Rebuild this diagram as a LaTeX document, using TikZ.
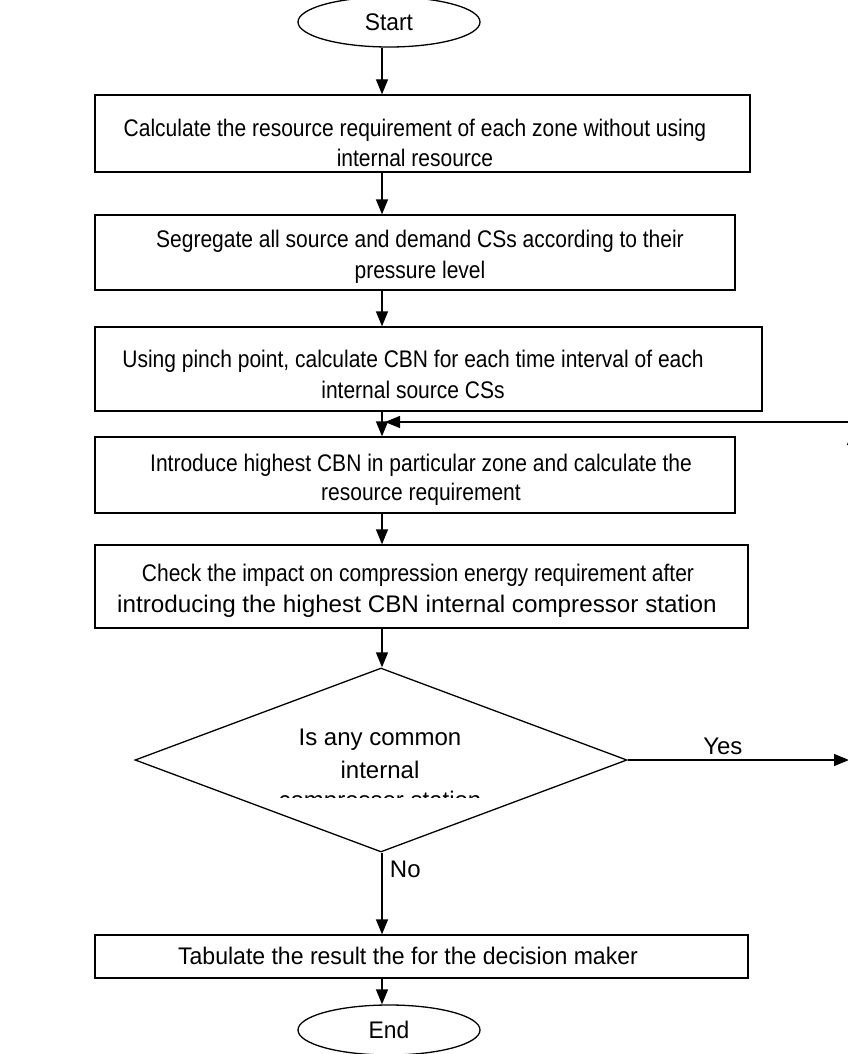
\documentclass[tikz,border=0pt]{standalone}
\usepackage{fontspec}
\setmainfont{Liberation Sans}
\usetikzlibrary{arrows.meta,shapes.geometric}
\newcommand{\nx}[2][0.875]{\scalebox{#1}[1]{#2}}
\begin{document}
\begin{tikzpicture}[x=1pt,y=-1pt,
  font=\fontsize{24}{28}\selectfont,
  box/.style={draw, line width=1.3pt, inner sep=0pt},
  term/.style={draw, ellipse, line width=1.3pt, inner sep=0pt, minimum width=182pt, minimum height=50pt},
  dec/.style={draw, diamond, line width=1.3pt, inner sep=0pt, minimum width=492pt, minimum height=184pt},
  txt/.style={inner sep=0pt},
  arr/.style={-{Triangle[length=15pt,width=12pt]}, line width=1.3pt},
  ln/.style={line width=1.3pt}]
\useasboundingbox (0,0) rectangle (848,1054);
\coordinate (ax) at (382,0);

\node[term] (start) at (389,22) {\nx[0.95]{Start}};

\node[box, minimum width=655pt, minimum height=77pt] (b1) at (422.5,133.5) {};
\node[txt] (b1a) at (415,130) {\nx{Calculate the resource requirement of each zone without using}};
\node[txt] (b1b) at (415,158) {\nx{internal resource}};

\node[box, minimum width=640pt, minimum height=75pt] (b2) at (415,252.5) {};
\node[txt] (b2a) at (420,241) {\nx{Segregate all source and demand CSs according to their}};
\node[txt] (b2b) at (420,272) {\nx{pressure level}};

\node[box, minimum width=667pt, minimum height=84pt] (b3) at (428.5,369) {};
\node[txt] (b3a) at (413,361) {\nx{Using pinch point, calculate CBN for each time interval of each}};
\node[txt] (b3b) at (413,390) {\nx{internal source CSs}};

\node[box, minimum width=640pt, minimum height=76pt] (b4) at (415,475) {};
\node[txt] (b4a) at (421,465) {\nx{Introduce highest CBN in particular zone and calculate the}};
\node[txt] (b4b) at (421,494) {\nx{resource requirement}};

\node[box, minimum width=653pt, minimum height=83pt] (b5) at (421.5,586.5) {};
\node[txt] (b5a) at (418,575) {\nx{Check the impact on compression energy requirement after}};
\node[txt] (b5b) at (417,606) {\nx[1.01]{introducing the highest CBN internal compressor station}};

\node[dec] (d) at (381,760) {};
\begin{scope}
  \clip (200,715) rectangle (560,797);
  \node[txt] (da) at (380,740) {Is any common};
  \node[txt] (db) at (380,770) {internal};
  \node[txt] (dc) at (380,802) {compressor station};
\end{scope}

\node[box, minimum width=653pt, minimum height=43pt] (b6) at (421.5,956.5) {};
\node[txt] (b6a) at (408,956) {\nx[0.96]{Tabulate the result the for the decision maker}};

\node[term] (end) at (389,1030) {\nx[0.95]{End}};

\draw[arr] (start.south -| ax) -- (b1.north -| ax);
\draw[arr] (b1.south -| ax) -- (b2.north -| ax);
\draw[arr] (b2.south -| ax) -- (b3.north -| ax);
\draw[arr] (b3.south -| ax) -- (b4.north -| ax);
\draw[arr] (b4.south -| ax) -- (b5.north -| ax);
\draw[arr] (b5.south -| ax) -- (d.north -| ax);
\draw[arr] (d.south -| ax) -- node[right=4pt, pos=0.2] (no) {No} (b6.north -| ax);
\draw[arr] (b6.south -| ax) -- (end.north -| ax);

\coordinate (yesend) at (849,760);
\draw[arr] (d.east) -- node[above=1pt, pos=0.43] (yes) {Yes} (yesend);
\coordinate (up1) at (853,760);
\coordinate (up2) at (853,430);
\draw[arr] (up1) -- (up2);
\coordinate (back) at (848,422);
\coordinate (join) at (ax |- back);
\draw[arr] (back) -- ([xshift=3pt]join);
\end{tikzpicture}
\end{document}
